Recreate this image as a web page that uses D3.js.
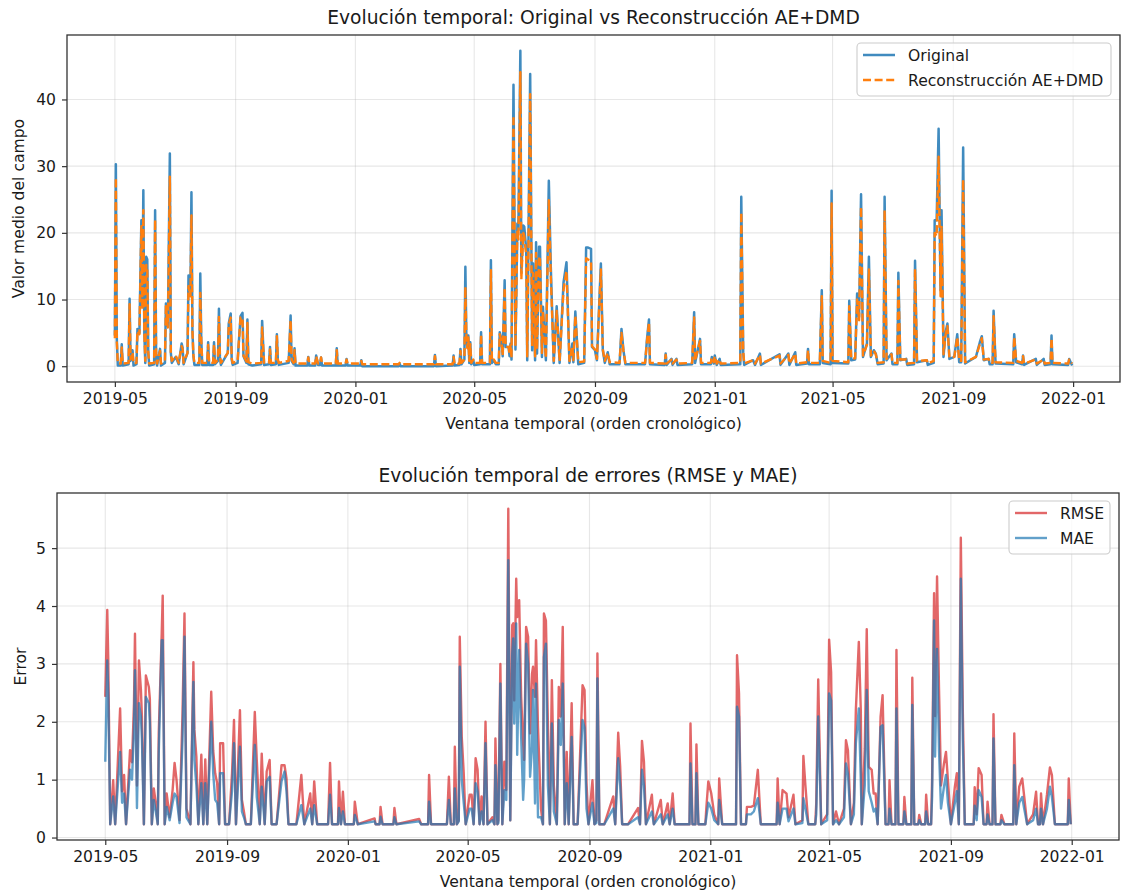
<!DOCTYPE html>
<html>
<head>
<meta charset="utf-8">
<script src="https://cdn.jsdelivr.net/npm/d3@7"></script>
<style>
  body { margin: 0; background: #fff; }
  text { font-family: "DejaVu Sans", sans-serif; fill: #1a1a1a; }
</style>
</head>
<body>
<svg id="fig" width="1122" height="892"></svg>
<script>
// ---------------------------------------------------------------
// Datos: día desde 2019-05-01 y valor medio del campo
// ---------------------------------------------------------------
const diasCampo = [
  0,1,2,3,6,7,8,14,15,16,
  18,19,22,23,25,27,28,29,30,31,
  32,33,34,35,40,41,42,43,46,47,
  51,52,54,56,57,58,62,65,68,69,
  70,74,75,77,78,79,80,81,86,87,
  88,89,94,95,96,100,101,102,105,106,
  107,108,115,116,118,119,120,125,126,128,
  130,131,134,135,136,140,149,150,151,152,
  157,158,159,164,165,166,167,177,178,179,
  180,182,183,184,196,197,198,204,205,207,
  209,210,211,225,226,227,235,236,237,250,
  251,252,289,290,291,325,326,327,344,345,
  346,351,352,353,356,357,358,359,360,361,
  362,363,365,366,372,373,374,382,383,384,
  386,388,391,392,394,395,397,398,401,402,
  403,404,406,408,410,411,413,414,416,417,
  419,420,423,425,426,428,429,430,432,433,
  435,436,439,442,444,447,450,453,457,460,
  463,466,467,469,472,478,480,482,485,486,
  489,491,495,497,499,502,504,514,516,518,
  520,540,542,544,545,560,561,562,567,568,
  572,573,588,590,591,596,597,607,608,610,
  611,613,616,617,637,638,640,641,650,652,
  657,658,677,678,686,687,693,694,705,706,
  707,718,720,721,729,730,731,747,748,750,
  754,756,758,760,762,766,768,770,773,775,
  777,783,784,786,791,792,797,798,800,806,
  807,814,815,817,827,828,834,835,837,839,
  841,842,844,846,848,850,855,858,860,862,
  864,866,877,881,883,885,890,891,894,895,
  897,915,916,918,924,925,926,938,939,946,
  947,953,954,955,971,972,975
];
const original = [
  4.6,30.3,4.0,0.1,0.1,3.3,0.1,0.3,10.1,0.8,
  2.4,0.1,0.3,5.6,5.0,21.9,9.0,26.4,5.0,0.5,
  16.4,16.0,2.0,0.1,0.3,23.4,2.0,0.1,2.6,0.1,
  0.5,9.4,6.0,31.9,2.0,0.5,1.4,0.3,3.4,2.8,
  0.3,2.0,13.6,11.4,26.1,5.4,1.5,0.2,0.2,13.9,
  4.0,0.2,0.2,3.6,0.2,0.2,3.6,0.3,0.8,8.6,
  1.4,0.2,2.0,6.4,7.9,1.0,0.2,0.5,3.0,7.5,
  8.0,1.5,0.5,7.0,0.3,0.1,0.3,6.8,3.4,0.2,
  0.3,2.9,0.2,0.3,4.8,0.8,0.2,0.5,3.9,7.6,
  0.8,0.3,2.7,0.1,0.1,1.4,0.1,0.1,1.6,0.2,
  0.2,1.3,0.1,0.1,2.7,0.1,0.1,1.1,0.1,0.1,
  0.9,0.0,0.0,0.4,0.0,0.0,1.7,0.0,0.1,1.6,
  0.1,0.2,2.6,0.3,1.0,14.9,4.6,2.9,4.6,0.5,
  3.6,0.3,0.9,0.2,0.3,5.1,0.3,0.3,15.9,0.5,
  0.9,0.3,0.3,5.1,3.9,1.5,12.9,2.9,2.9,1.5,
  3.4,1.0,42.2,2.5,21.4,20.4,47.3,14.0,21.1,20.9,
  17.4,0.9,43.8,2.4,15.4,0.9,18.6,1.9,17.9,17.9,
  1.4,8.9,0.9,27.8,14.9,0.5,9.0,0.5,12.6,15.6,
  0.5,3.4,0.6,8.2,0.3,0.5,17.8,17.8,17.6,2.9,
  2.4,0.9,15.4,2.4,0.5,2.1,0.3,0.3,5.6,2.4,
  0.3,0.3,4.1,7.0,0.3,0.2,1.9,0.2,1.1,0.2,
  1.1,0.2,0.3,8.1,0.5,4.1,0.3,0.3,1.4,0.4,
  1.6,0.2,1.1,0.2,0.3,25.4,2.0,0.2,0.9,0.2,
  1.9,0.2,1.8,0.2,1.9,0.2,2.1,0.2,0.4,2.6,
  0.3,0.3,11.4,0.5,0.3,26.3,0.5,0.4,9.8,0.9,
  1.0,10.9,7.4,25.8,1.4,3.4,16.4,1.4,2.4,1.9,
  0.3,0.4,25.4,0.9,1.9,0.3,0.3,14.0,0.9,1.1,
  0.2,0.3,15.8,0.6,0.9,0.2,0.5,21.9,21.9,35.6,
  11.4,23.4,1.4,5.0,6.4,1.1,1.4,4.8,0.6,0.6,
  32.8,0.4,1.4,3.6,4.5,0.9,1.1,0.3,0.3,8.3,
  0.4,0.3,4.8,0.6,0.3,1.6,0.2,1.1,0.2,1.1,
  0.2,0.3,4.6,0.3,0.2,1.1,0.1
];
const reconstruccion = [
  4.2,28.3,3.6,0.4,0.4,2.8,0.4,0.5,9.3,1.0,
  2.1,0.4,0.5,5.3,4.8,21.0,8.5,23.4,5.0,0.8,
  15.2,14.6,2.2,0.4,0.5,22.0,2.0,0.4,2.3,0.4,
  0.8,9.0,5.8,28.4,2.0,0.8,1.6,0.5,3.0,2.6,
  0.5,2.0,12.0,10.5,22.6,5.4,1.6,0.5,0.5,11.0,
  4.0,0.5,0.5,3.2,0.5,0.5,3.3,0.5,1.0,7.4,
  1.5,0.5,2.0,6.2,7.3,1.2,0.5,0.8,3.0,7.3,
  7.3,1.6,0.7,6.5,0.6,0.4,0.5,5.8,3.0,0.5,
  0.5,2.5,0.5,0.5,4.5,1.0,0.5,0.8,3.8,6.9,
  1.0,0.5,2.4,0.4,0.4,1.3,0.4,0.4,1.5,0.4,
  0.4,1.3,0.4,0.4,2.4,0.4,0.4,1.0,0.4,0.4,
  0.8,0.3,0.3,0.5,0.3,0.3,1.5,0.3,0.3,1.4,
  0.3,0.4,2.3,0.5,1.0,11.9,4.4,2.7,4.3,0.8,
  3.3,0.5,1.0,0.5,0.5,4.8,0.5,0.5,14.4,0.8,
  1.0,0.5,0.5,4.8,3.6,1.6,11.8,2.9,2.9,1.8,
  3.3,1.2,37.6,3.0,20.5,19.0,44.1,13.0,20.0,19.5,
  16.5,1.5,40.8,3.0,14.0,1.5,17.0,2.5,16.5,16.0,
  2.0,8.3,1.2,24.9,13.5,0.8,8.3,0.8,11.5,14.3,
  0.8,3.0,0.9,7.6,0.6,0.7,16.2,16.0,15.8,3.0,
  2.5,1.1,14.5,2.5,0.8,2.0,0.6,0.5,5.0,2.3,
  0.5,0.5,3.8,6.6,0.5,0.4,1.7,0.4,1.0,0.4,
  1.0,0.4,0.5,7.3,0.8,3.8,0.5,0.5,1.3,0.6,
  1.5,0.4,1.0,0.4,0.5,23.1,2.2,0.4,0.9,0.4,
  1.7,0.4,1.6,0.4,1.7,0.4,1.9,0.4,0.6,2.4,
  0.5,0.5,10.5,0.8,0.5,24.4,0.8,0.6,9.0,1.1,
  1.2,10.0,6.9,23.9,1.6,3.2,14.5,1.6,2.3,1.8,
  0.5,0.6,23.4,1.1,1.8,0.5,0.5,12.8,1.0,1.0,
  0.4,0.5,14.6,0.8,0.9,0.4,0.8,20.0,19.5,31.4,
  10.5,20.9,1.8,4.6,6.0,1.3,1.4,4.4,0.8,0.8,
  28.0,0.6,1.4,3.3,4.2,1.0,1.1,0.5,0.5,7.5,
  0.6,0.5,4.4,0.8,0.5,1.5,0.4,1.0,0.4,1.0,
  0.4,0.5,4.2,0.5,0.4,1.0,0.4
];

// ---------------------------------------------------------------
// Errores por ventana: día desde 2019-05-01, RMSE y MAE
// ---------------------------------------------------------------
const diasError = [
  0,2,3,5,8,10,15,17,19,21,
  25,27,29,30,32,34,36,37,39,41,
  44,45,47,49,51,53,54,57,58,60,
  62,65,68,70,72,75,78,80,82,86,
  89,90,92,94,97,99,101,103,107,109,
  111,113,115,116,119,121,125,128,130,132,
  136,138,140,142,147,151,153,156,158,161,
  163,166,168,173,178,181,183,185,193,198,
  201,207,209,211,214,225,227,229,235,236,
  238,240,242,251,252,255,272,273,277,278,
  280,291,292,294,317,319,326,327,329,345,
  347,349,352,353,355,357,358,360,362,364,
  368,370,372,374,376,378,380,382,384,386,
  391,393,394,396,397,399,401,403,405,407,
  409,411,412,413,415,416,418,420,422,423,
  425,427,429,431,432,434,435,437,440,442,
  443,445,447,449,451,453,456,458,460,462,
  464,466,468,471,473,477,482,484,486,488,
  492,494,496,497,499,504,513,515,518,520,
  522,528,538,540,542,544,546,552,554,561,
  563,568,570,573,575,590,591,593,596,597,
  599,606,607,609,612,615,619,620,623,637,
  638,640,642,647,648,652,655,659,662,678,
  679,681,684,688,690,695,697,704,705,707,
  710,717,718,720,723,729,731,733,735,738,
  741,746,748,750,753,756,758,761,763,764,
  767,769,771,774,776,778,780,783,785,788,
  791,792,794,798,799,801,806,807,809,814,
  815,817,821,822,824,828,829,831,834,835,
  837,838,840,842,844,847,849,851,854,858,
  860,862,864,866,868,877,878,880,882,885,
  887,890,891,893,896,897,899,904,905,908,
  917,918,920,923,926,928,931,937,940,942,
  944,945,947,951,954,956,959,972,973,975
];
const rmse = [
  2.43,3.93,3.09,0.23,0.99,0.23,2.23,0.80,1.08,0.23,
  1.51,1.30,2.32,3.52,0.90,3.06,2.55,2.09,0.23,2.80,
  2.60,2.40,0.23,0.85,0.60,0.23,1.80,3.52,4.18,0.23,
  0.76,0.35,0.82,1.29,0.99,0.30,2.14,3.87,0.50,0.23,
  3.03,1.86,1.40,0.23,1.43,0.23,1.35,0.23,2.52,1.50,
  1.11,0.94,0.23,1.63,1.63,0.23,0.23,1.11,2.03,0.23,
  2.20,0.65,0.45,0.23,0.23,2.17,1.34,0.23,1.45,0.23,
  1.14,1.34,0.23,0.23,1.25,1.25,1.02,0.23,0.23,1.08,
  0.23,0.76,0.23,0.97,0.23,0.23,1.29,0.23,0.23,0.97,
  0.23,0.79,0.23,0.23,0.62,0.23,0.33,0.23,0.23,0.53,
  0.23,0.23,0.51,0.23,0.32,0.23,0.23,1.08,0.23,0.23,
  1.05,0.23,0.23,1.57,0.23,0.30,3.47,1.74,1.11,0.23,
  0.74,0.74,0.23,1.37,1.17,0.23,0.71,0.23,2.00,0.23,
  0.35,0.23,1.71,0.23,0.30,3.00,0.23,1.31,0.82,5.68,
  0.30,3.67,3.70,2.37,4.47,3.81,4.10,2.43,1.63,1.34,
  3.64,3.47,1.80,2.83,2.95,2.43,3.41,1.91,0.50,0.23,
  3.87,3.75,1.97,0.23,2.72,0.90,0.23,2.60,2.09,3.64,
  0.23,1.48,0.23,2.32,0.23,0.23,2.63,2.55,0.94,0.23,
  0.99,0.23,0.30,3.18,0.23,0.23,0.71,0.23,1.81,1.22,
  0.23,0.23,0.51,0.23,1.67,1.31,0.23,0.74,0.23,0.65,
  0.23,0.59,0.23,0.76,0.23,0.23,1.97,0.23,0.23,1.61,
  0.23,0.23,0.51,0.97,0.76,0.40,0.23,1.02,0.23,0.23,
  3.15,2.49,0.23,0.23,0.53,0.53,0.55,1.17,0.23,0.23,
  1.02,0.23,0.82,0.76,0.35,0.74,0.23,0.30,1.41,0.91,
  0.23,0.23,0.59,2.73,0.23,0.40,3.42,2.86,0.23,0.45,
  0.23,0.50,1.68,1.51,0.23,0.60,2.20,3.38,2.20,0.23,
  1.54,3.60,1.22,1.17,0.76,0.76,0.23,2.09,2.46,0.23,
  0.23,0.99,0.23,0.23,3.24,0.23,0.23,0.70,0.23,0.23,
  2.76,0.23,0.23,0.39,0.23,0.23,0.74,0.23,0.23,1.00,
  4.22,2.10,4.51,2.55,0.90,1.28,1.48,0.99,0.23,0.88,
  1.11,0.23,5.18,2.20,0.23,0.23,0.87,0.40,1.20,1.08,
  0.23,0.23,0.62,0.23,0.23,2.13,0.23,0.23,0.39,0.23,
  0.23,1.80,0.23,0.88,1.02,0.71,0.23,0.40,0.79,0.23,
  0.23,0.76,0.23,0.74,1.21,1.08,0.23,0.23,1.02,0.23
];
const mae = [
  1.31,3.06,2.46,0.23,0.71,0.23,1.48,0.60,0.76,0.23,
  1.17,1.00,1.90,2.89,0.51,2.32,2.09,1.70,0.23,2.43,
  2.32,2.00,0.23,0.65,0.45,0.23,1.45,3.41,3.41,0.23,
  0.53,0.30,0.60,0.76,0.70,0.25,1.68,3.47,0.35,0.23,
  2.69,1.34,0.90,0.23,0.94,0.23,0.94,0.23,2.00,1.11,
  0.65,0.60,0.23,1.11,1.11,0.23,0.23,0.80,1.63,0.23,
  1.57,0.45,0.35,0.23,0.23,1.60,0.70,0.23,0.88,0.23,
  0.97,1.05,0.23,0.23,0.97,1.14,0.80,0.23,0.23,0.56,
  0.23,0.50,0.23,0.56,0.23,0.23,0.74,0.23,0.23,0.51,
  0.23,0.45,0.23,0.23,0.39,0.23,0.28,0.23,0.23,0.36,
  0.23,0.23,0.35,0.23,0.28,0.23,0.23,0.62,0.23,0.23,
  0.65,0.23,0.23,0.85,0.23,0.28,2.95,1.00,0.60,0.23,
  0.50,0.50,0.23,0.94,0.80,0.23,0.45,0.23,1.63,0.23,
  0.30,0.23,1.25,0.23,0.25,2.66,0.23,0.82,0.65,4.79,
  0.30,3.18,3.44,1.97,3.70,1.43,3.24,1.74,0.65,1.00,
  3.35,3.00,1.05,1.57,2.55,0.59,2.66,0.35,0.35,0.23,
  3.12,3.35,0.90,0.23,1.97,0.45,0.23,2.03,1.60,2.66,
  0.23,0.94,0.23,1.74,0.23,0.23,2.03,1.90,0.50,0.23,
  0.60,0.23,0.25,2.75,0.23,0.23,0.50,0.23,1.37,0.90,
  0.23,0.23,0.35,0.23,1.17,0.90,0.23,0.45,0.23,0.40,
  0.23,0.40,0.23,0.50,0.23,0.23,1.28,0.23,0.23,1.11,
  0.23,0.23,0.35,0.60,0.50,0.30,0.23,0.65,0.23,0.23,
  2.26,2.09,0.23,0.23,0.40,0.40,0.45,0.68,0.23,0.23,
  0.60,0.23,0.50,0.50,0.28,0.50,0.23,0.25,0.68,0.50,
  0.23,0.23,0.40,2.09,0.23,0.30,2.49,2.37,0.23,0.30,
  0.23,0.35,1.28,1.10,0.23,0.40,1.63,2.23,1.00,0.23,
  0.90,2.55,0.80,0.60,0.45,0.50,0.23,1.91,1.94,0.23,
  0.23,0.50,0.23,0.23,2.23,0.23,0.23,0.45,0.23,0.23,
  2.29,0.23,0.23,0.30,0.23,0.23,0.45,0.23,0.23,0.70,
  3.75,1.40,3.26,1.50,0.50,0.88,1.08,0.60,0.23,0.60,
  0.80,0.23,4.47,1.68,0.23,0.23,0.55,0.30,0.82,0.70,
  0.23,0.23,0.40,0.23,0.23,1.71,0.23,0.23,0.30,0.23,
  0.23,1.25,0.23,0.60,0.70,0.50,0.23,0.30,0.50,0.23,
  0.23,0.50,0.23,0.50,0.88,0.70,0.23,0.23,0.65,0.23
];

// Etiquetas de los ejes
const ticksFecha = ["2019-05","2019-09","2020-01","2020-05","2020-09","2021-01","2021-05","2021-09","2022-01"];
const ticksCampo = [0, 10, 20, 30, 40];
const ticksError = [0, 1, 2, 3, 4, 5];

// ---------------------------------------------------------------
const inicio = Date.UTC(2019, 4, 1);
const diaAFecha = d => new Date(inicio + d * 864e5);
const fechaTick = s => { const [a, m] = s.split("-").map(Number); return new Date(Date.UTC(a, m - 1, 1)); };
const fmtTick = d3.utcFormat("%Y-%m");

const svg = d3.select("#fig");
svg.append("rect").attr("width", 1122).attr("height", 892).attr("fill", "#fff");

const FS = 15.6;     // ticks, etiquetas y leyenda
const FS_T = 18.7;   // títulos

function panel(p) {
  const dias = p.dias;
  const [d0, d1] = d3.extent(dias);
  const padX = (d1 - d0) * 0.05;
  const x = d3.scaleUtc()
    .domain([diaAFecha(d0 - padX), diaAFecha(d1 + padX)])
    .range([p.left, p.right]);

  const todos = p.series.flatMap(s => s.valores);
  const [v0, v1] = d3.extent(todos);
  const padY = (v1 - v0) * 0.05;
  const y = d3.scaleLinear().domain([v0 - padY, v1 + padY]).range([p.bottom, p.top]);

  const g = svg.append("g");
  const fechas = ticksFecha.map(fechaTick);

  // rejilla
  g.append("g").selectAll("line").data(fechas).join("line")
    .attr("x1", d => x(d)).attr("x2", d => x(d))
    .attr("y1", p.top).attr("y2", p.bottom)
    .attr("stroke", "#b0b0b0").attr("stroke-opacity", 0.3).attr("stroke-width", 1.1);
  g.append("g").selectAll("line").data(p.yTicks).join("line")
    .attr("x1", p.left).attr("x2", p.right)
    .attr("y1", d => y(d)).attr("y2", d => y(d))
    .attr("stroke", "#b0b0b0").attr("stroke-opacity", 0.3).attr("stroke-width", 1.1);

  // series
  const clipId = "clip" + p.id;
  svg.append("clipPath").attr("id", clipId).append("rect")
    .attr("x", p.left).attr("y", p.top).attr("width", p.right - p.left).attr("height", p.bottom - p.top);
  const gl = g.append("g").attr("clip-path", `url(#${clipId})`);
  p.series.forEach(s => {
    const linea = d3.line()
      .x((_, i) => x(diaAFecha(dias[i])))
      .y(v => y(v));
    gl.append("path").datum(s.valores)
      .attr("d", linea)
      .attr("fill", "none")
      .attr("stroke", s.color)
      .attr("stroke-opacity", s.opacidad)
      .attr("stroke-width", s.ancho)
      .attr("stroke-dasharray", s.guiones || null)
      .attr("stroke-linejoin", "round");
  });

  // ejes
  const ax = g.append("g").attr("transform", `translate(0,${p.bottom})`)
    .call(d3.axisBottom(x).tickValues(fechas).tickFormat(fmtTick).tickSize(5).tickPadding(6));
  const ay = g.append("g").attr("transform", `translate(${p.left},0)`)
    .call(d3.axisLeft(y).tickValues(p.yTicks).tickFormat(d3.format("d")).tickSize(5).tickPadding(6));
  [ax, ay].forEach(a => {
    a.select(".domain").remove();
    a.selectAll(".tick line").attr("stroke", "#333").attr("stroke-width", 1.2);
    a.selectAll(".tick text").attr("font-size", FS).attr("font-family", "DejaVu Sans").attr("fill", "#1a1a1a");
  });

  // marco
  g.append("rect")
    .attr("x", p.left).attr("y", p.top)
    .attr("width", p.right - p.left).attr("height", p.bottom - p.top)
    .attr("fill", "none").attr("stroke", "#333").attr("stroke-width", 1.3);

  // textos
  const cx = (p.left + p.right) / 2;
  g.append("text").attr("x", cx).attr("y", p.top - 11)
    .attr("text-anchor", "middle").attr("font-size", FS_T).text(p.titulo);
  g.append("text").attr("x", cx).attr("y", p.bottom + 47)
    .attr("text-anchor", "middle").attr("font-size", FS).text(p.xLabel);
  g.append("text")
    .attr("transform", `translate(${p.yLabelX},${(p.top + p.bottom) / 2}) rotate(-90)`)
    .attr("text-anchor", "middle").attr("font-size", FS).text(p.yLabel);

  // leyenda
  const L = p.leyenda;
  const lg = g.append("g");
  lg.append("rect").attr("x", L.x).attr("y", L.y).attr("width", L.w).attr("height", L.h)
    .attr("rx", 4).attr("fill", "#fff").attr("fill-opacity", 0.8)
    .attr("stroke", "#cccccc").attr("stroke-width", 1.1);
  p.series.forEach((s, i) => {
    const yy = L.y + 12 + i * 25;
    lg.append("line").attr("x1", L.x + 6).attr("x2", L.x + 38)
      .attr("y1", yy).attr("y2", yy)
      .attr("stroke", s.color).attr("stroke-opacity", s.opacidad)
      .attr("stroke-width", s.ancho)
      .attr("stroke-dasharray", s.guiones || null);
    lg.append("text").attr("x", L.x + 51).attr("y", yy + 5.5)
      .attr("font-size", FS).text(s.nombre);
  });
}

panel({
  id: "a", dias: diasCampo,
  left: 67, right: 1120, top: 35, bottom: 382,
  yTicks: ticksCampo,
  titulo: "Evolución temporal: Original vs Reconstrucción AE+DMD",
  xLabel: "Ventana temporal (orden cronológico)",
  yLabel: "Valor medio del campo", yLabelX: 24,
  series: [
    { nombre: "Original", valores: original, color: "#1f77b4", opacidad: 0.85, ancho: 2.5 },
    { nombre: "Reconstrucción AE+DMD", valores: reconstruccion, color: "#ff7f0e", opacidad: 1, ancho: 2.4, guiones: "8,3.6" }
  ],
  leyenda: { x: 857, y: 43, w: 254, h: 53 }
});

panel({
  id: "b", dias: diasError,
  left: 57, right: 1119, top: 493, bottom: 840,
  yTicks: ticksError,
  titulo: "Evolución temporal de errores (RMSE y MAE)",
  xLabel: "Ventana temporal (orden cronológico)",
  yLabel: "Error", yLabelX: 26,
  series: [
    { nombre: "RMSE", valores: rmse, color: "#d62728", opacidad: 0.7, ancho: 2.4 },
    { nombre: "MAE", valores: mae, color: "#1f77b4", opacidad: 0.7, ancho: 2.4 }
  ],
  leyenda: { x: 1009, y: 501, w: 101, h: 53 }
});
</script>
</body>
</html>
